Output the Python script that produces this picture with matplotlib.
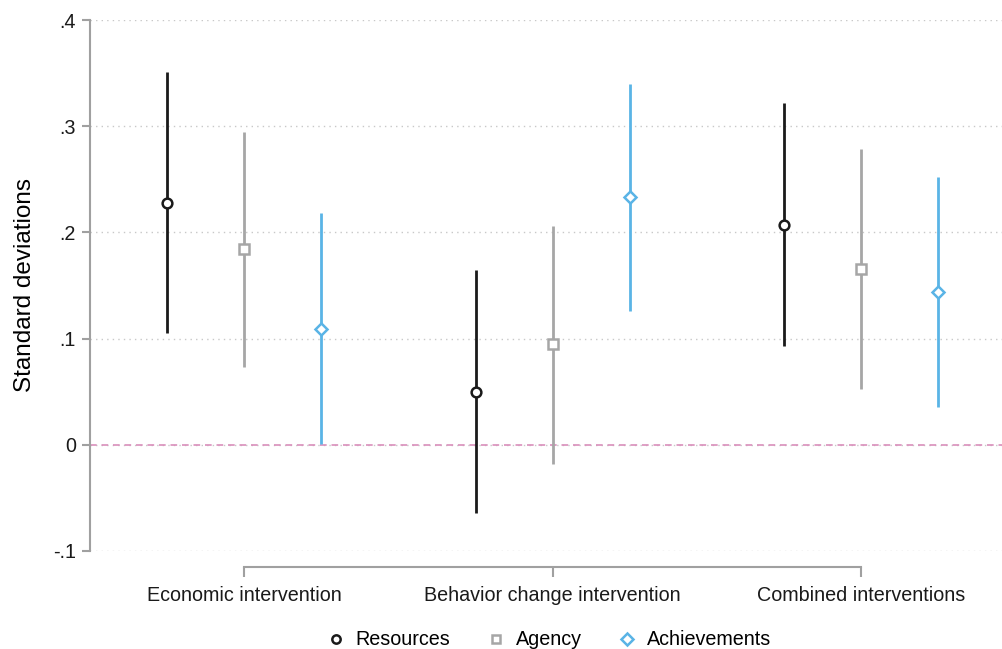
import numpy as np
import matplotlib
matplotlib.use("Agg")
import matplotlib.pyplot as plt
from matplotlib.lines import Line2D

plt.rcParams['font.family'] = ['Liberation Sans', 'DejaVu Sans']

# data
categories = ["Economic intervention", "Behavior change intervention", "Combined interventions"]
series = ["Resources", "Agency", "Achievements"]

resources_est = [0.228, 0.050, 0.207]
resources_lo = [0.105, -0.064, 0.093]
resources_hi = [0.351, 0.165, 0.322]

agency_est = [0.184, 0.095, 0.166]
agency_lo = [0.073, -0.018, 0.053]
agency_hi = [0.295, 0.206, 0.279]

achieve_est = [0.109, 0.233, 0.144]
achieve_lo = [0.001, 0.126, 0.036]
achieve_hi = [0.218, 0.340, 0.252]

yticks = [-0.1, 0, 0.1, 0.2, 0.3, 0.4]
yticklabels = ["-.1", "0", ".1", ".2", ".3", ".4"]

colors = ["#1a1a1a", "#a6a6a6", "#5ab4e6"]
markers = ["o", "s", "D"]

fig = plt.figure(figsize=(10.03, 6.49), dpi=100)
ax = fig.add_axes([90 / 1003, 98 / 649, 1 - 90 / 1003, 531 / 649])

est_all = [resources_est, agency_est, achieve_est]
lo_all = [resources_lo, agency_lo, achieve_lo]
hi_all = [resources_hi, agency_hi, achieve_hi]

group_x = np.arange(len(categories)) * 4 + 1
for s in range(3):
    xs = group_x + (s - 1)
    ax.vlines(xs, lo_all[s], hi_all[s], color=colors[s], lw=2.0, zorder=3)
    ax.plot(xs, est_all[s], linestyle="none", marker=markers[s], ms=7 if s != 2 else 6.5,
            mfc="white", mec=colors[s], mew=1.8, zorder=4)

ax.axhline(0, color="#d98fbb", lw=1.2, dashes=(4, 2.9), zorder=2)

ax.set_ylim(-0.1, 0.4)
ax.set_xlim(-1, 10.84)
ax.set_yticks(yticks)
ax.set_yticklabels(yticklabels)
ax.yaxis.grid(True, color="#c8c8c8", linestyle=(0, (1, 3)), lw=1.0)
ax.set_xticks(group_x)
ax.set_xticklabels(categories)

for side in ["top", "right"]:
    ax.spines[side].set_visible(False)
ax.spines["left"].set_color("#a0a0a0")
ax.spines["left"].set_linewidth(1.5)
ax.spines["bottom"].set_color("#a0a0a0")
ax.spines["bottom"].set_linewidth(1.5)
ax.spines["bottom"].set_position(("outward", 11.5))
ax.spines["bottom"].set_bounds(group_x[0], group_x[-1])

ax.tick_params(axis="y", colors="#a0a0a0", labelcolor="#1a1a1a", length=6, width=1.5,
               labelsize=14.2, pad=4)
ax.tick_params(axis="x", colors="#a0a0a0", labelcolor="#1a1a1a", length=7, width=1.5,
               labelsize=14.2, pad=6.5)
ax.set_ylabel("Standard deviations", fontsize=17.5, labelpad=12)

handles = [Line2D([], [], linestyle="none", marker=markers[s], ms=6, mfc="white",
                  mec=colors[s], mew=1.8) for s in range(3)]
fig.legend(handles, series, loc="center", bbox_to_anchor=(0.547, 0.014), ncol=3,
           frameon=False, fontsize=14.2, handlelength=1.0, handletextpad=0.5,
           columnspacing=1.8)

fig.savefig("out.png", dpi=100)
